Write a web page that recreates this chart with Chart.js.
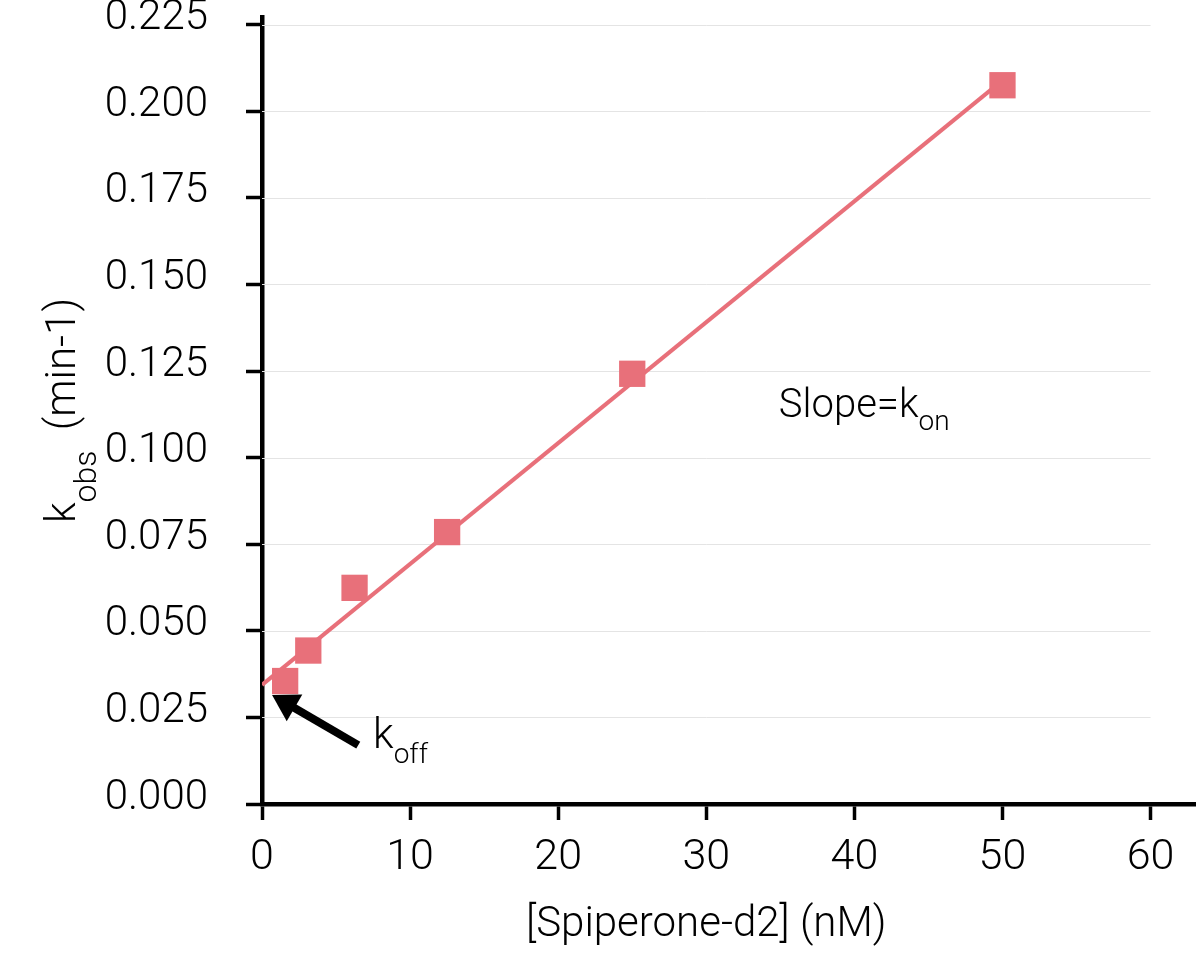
<!DOCTYPE html>
<html>
<head>
<meta charset="utf-8">
<script src="https://cdn.jsdelivr.net/npm/chart.js@4"></script>
<style>
html,body{margin:0;padding:0;background:#fff;overflow:hidden;}
#wrap{width:1200px;height:970px;position:relative;}
canvas{display:block;}
</style>
</head>
<body>
<div id="wrap"><canvas id="c" width="1200" height="970"></canvas></div>
<script>
// ---- data ----
const concentrations = [1.5625, 3.125, 6.25, 12.5, 25, 50];      // [Spiperone-d2] (nM)
const kobsValues     = [0.0355, 0.0443, 0.0624, 0.0785, 0.1242, 0.2075]; // k_obs (min-1)
const fitX = [0, 50];
const fitY = [0.0344, 0.2089];
const xTicks = [0, 10, 20, 30, 40, 50, 60];
const yTicks = [0, 0.025, 0.05, 0.075, 0.1, 0.125, 0.15, 0.175, 0.2, 0.225];
const xTitle = '[Spiperone-d2] (nM)';
const yTitle = {main: 'k', sub: 'obs', tail: '  (min-1)'};
const slopeText = {main: 'Slope=k', sub: 'on', x: 34.9, y: 0.1118};
const koffText  = {main: 'k', sub: 'off', x: 7.5, y: 0.0162};
const koffArrow = {tipX: 0.68, tipY: 0.0315, tailX: 6.5, tailY: 0.017};

const FONT = 'Roboto, "Noto Sans", sans-serif';
const RED = 'rgb(232,112,122)';

function subText(ctx, x, y, main, mainSize, sub, subSize, drop, tail) {
  ctx.font = '300 ' + mainSize + 'px ' + FONT;
  ctx.fillText(main, x, y);
  let w = ctx.measureText(main).width;
  ctx.font = '300 ' + subSize + 'px ' + FONT;
  ctx.fillText(sub, x + w, y + drop);
  w += ctx.measureText(sub).width;
  if (tail) {
    ctx.font = '300 ' + mainSize + 'px ' + FONT;
    ctx.fillText(tail, x + w, y);
  }
}
function measureSub(ctx, main, mainSize, sub, subSize, tail) {
  ctx.font = '300 ' + mainSize + 'px ' + FONT;
  let w = ctx.measureText(main).width + (tail ? ctx.measureText(tail).width : 0);
  ctx.font = '300 ' + subSize + 'px ' + FONT;
  return w + ctx.measureText(sub).width;
}
function noPad(s) { s.paddingTop = 0; s.paddingBottom = 0; s.paddingLeft = 0; s.paddingRight = 0; }

const decor = {
  id: 'decor',
  beforeDatasetsDraw(chart) {
    const {ctx, scales: {x, y}} = chart;
    ctx.save();
    ctx.strokeStyle = '#e4e4e4';
    ctx.lineWidth = 1;
    const x0 = x.getPixelForValue(xTicks[0]);
    const x1 = x.getPixelForValue(xTicks[xTicks.length - 1]);
    yTicks.forEach(v => {
      if (v === 0) return;
      const py = Math.round(y.getPixelForValue(v)) + 0.5;
      ctx.beginPath(); ctx.moveTo(x0, py); ctx.lineTo(x1, py); ctx.stroke();
    });
    ctx.restore();
  },
  afterDraw(chart) {
    const {ctx, scales: {x, y}} = chart;
    ctx.save();
    ctx.fillStyle = '#000';
    ctx.textBaseline = 'alphabetic';
    ctx.textAlign = 'left';
    // slope label
    subText(ctx, x.getPixelForValue(slopeText.x), y.getPixelForValue(slopeText.y),
            slopeText.main, 40, slopeText.sub, 28, 13);
    // koff label
    subText(ctx, x.getPixelForValue(koffText.x), y.getPixelForValue(koffText.y),
            koffText.main, 42, koffText.sub, 28, 15);
    // arrow
    const tx = x.getPixelForValue(koffArrow.tipX), ty = y.getPixelForValue(koffArrow.tipY);
    const sx = x.getPixelForValue(koffArrow.tailX), sy = y.getPixelForValue(koffArrow.tailY);
    const ang = Math.atan2(ty - sy, tx - sx);
    const headLen = 26, headHalf = 15.5;
    const bx = tx - headLen * Math.cos(ang), by = ty - headLen * Math.sin(ang);
    ctx.strokeStyle = '#000';
    ctx.lineWidth = 8;
    ctx.beginPath(); ctx.moveTo(sx, sy); ctx.lineTo(bx + 3 * Math.cos(ang), by + 3 * Math.sin(ang)); ctx.stroke();
    ctx.beginPath();
    ctx.moveTo(tx, ty);
    ctx.lineTo(bx + headHalf * Math.sin(ang), by - headHalf * Math.cos(ang));
    ctx.lineTo(bx - headHalf * Math.sin(ang), by + headHalf * Math.cos(ang));
    ctx.closePath(); ctx.fill();
    // x title
    ctx.textAlign = 'center';
    ctx.font = '300 42px ' + FONT;
    ctx.fillText(xTitle, (x.getPixelForValue(xTicks[0]) + x.getPixelForValue(xTicks[xTicks.length - 1])) / 2, 936);
    // y title (rotated)
    const cy = (y.getPixelForValue(y.min) + y.getPixelForValue(y.max)) / 2;
    ctx.translate(0, cy);
    ctx.rotate(-Math.PI / 2);
    ctx.textAlign = 'left';
    const tw = measureSub(ctx, yTitle.main, 42, yTitle.sub, 32, yTitle.tail);
    subText(ctx, -tw / 2, 75, yTitle.main, 42, yTitle.sub, 32, 21, yTitle.tail);
    ctx.restore();
  }
};

new Chart(document.getElementById('c'), {
  type: 'scatter',
  data: {
    datasets: [
      {
        label: 'kobs',
        data: concentrations.map((c, i) => ({x: c, y: kobsValues[i]})),
        pointStyle: 'rect',
        pointRadius: 18.6,
        pointHoverRadius: 18.6,
        backgroundColor: RED,
        borderColor: RED,
        borderWidth: 0,
        showLine: false,
        clip: false
      },
      {
        label: 'fit',
        data: fitX.map((v, i) => ({x: v, y: fitY[i]})),
        showLine: true,
        borderColor: RED,
        borderWidth: 4,
        pointRadius: 0,
        pointHoverRadius: 0,
        fill: false
      }
    ]
  },
  options: {
    responsive: false,
    animation: false,
    events: [],
    layout: {autoPadding: false, padding: {top: 17, right: 5, left: 0, bottom: 0}},
    plugins: {legend: {display: false}, tooltip: {enabled: false}},
    scales: {
      x: {
        type: 'linear', min: 0, max: 63,
        afterBuildTicks(s) { s.ticks = xTicks.map(v => ({value: v})); },
        afterFit(s) { s.height = 166; noPad(s); },
        border: {color: '#000', width: 4.5},
        grid: {display: true, drawOnChartArea: false, tickColor: '#000', tickWidth: 3.5, tickLength: 16},
        ticks: {color: '#000', font: {family: FONT, size: 43, weight: 300}, padding: 12, maxRotation: 0,
                callback: v => String(v)}
      },
      y: {
        type: 'linear', min: 0, max: 0.2272,
        afterBuildTicks(s) { s.ticks = yTicks.map(v => ({value: v})); },
        afterFit(s) { s.width = 262; noPad(s); },
        border: {color: '#000', width: 4.5},
        grid: {display: true, drawOnChartArea: false, tickColor: '#000', tickWidth: 3.5, tickLength: 16},
        ticks: {color: '#000', font: {family: FONT, size: 42, weight: 300}, padding: 38, labelOffset: -6,
                callback: v => v.toFixed(3)}
      }
    }
  },
  plugins: [decor]
});
</script>
</body>
</html>
